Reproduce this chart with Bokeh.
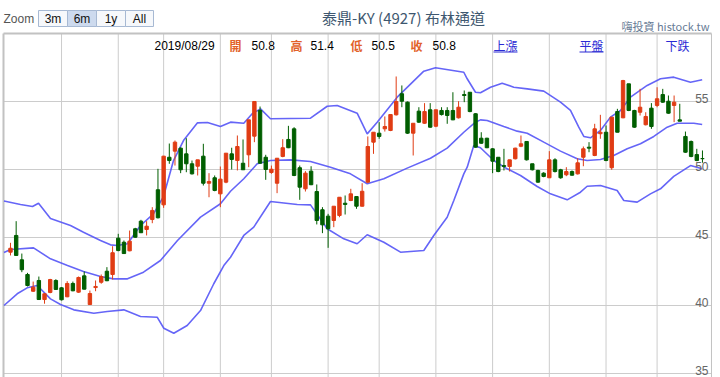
import numpy as np
from bokeh.plotting import figure
from bokeh.models import Range1d, Label, BoxAnnotation, ColumnDataSource
from bokeh.core.properties import value
from bokeh.embed import file_html
from bokeh.resources import INLINE

# ---------------- data ----------------
last_date = "2019/08/29"

opens = [43.92, 45.15, 43.36, 42.28, 41.05, 41.84, 40.44, 40.96, 41.84, 41.30,
         40.64, 41.62, 40.98, 42.18, 40.07, 41.32, 41.71, 42.52, 42.28, 44.95,
         44.65, 44.02, 45.64, 46.20, 45.59, 46.32, 48.51, 47.40, 50.90, 51.35,
         51.57, 51.15, 50.42, 50.24, 50.98, 48.99, 49.39, 48.21, 49.07, 51.15,
         50.66, 50.46, 51.08, 52.45, 54.34, 50.90, 49.78, 48.99, 50.96, 52.21,
         52.99, 50.13, 48.58, 49.88, 48.38, 47.04, 46.57, 46.25, 46.62, 47.52,
         47.72, 48.01, 47.30, 49.07, 52.01, 52.67, 52.99, 52.87, 54.02, 55.57,
         54.95, 52.67, 54.29, 53.40, 54.39, 53.18, 54.34, 54.34, 54.34, 53.80,
         55.51, 55.68, 54.10, 52.30, 52.30, 51.52, 50.90, 50.29, 50.22, 50.79,
         51.71, 52.06, 50.42, 49.93, 49.73, 49.39, 50.71, 49.98, 49.61, 49.85,
         49.68, 50.90, 51.64, 51.03, 52.63, 52.74, 50.13, 54.26, 53.80, 56.30,
         54.34, 54.21, 53.29, 54.51, 54.71, 55.51, 55.02, 54.71, 53.65, 52.43,
         52.06, 51.10, 50.80]
highs = [44.61, 46.20, 43.82, 42.40, 41.76, 42.13, 40.90, 41.96, 41.93, 41.35,
         41.79, 41.76, 42.13, 42.50, 41.10, 41.84, 42.28, 42.82, 44.36, 45.27,
         44.78, 45.51, 45.71, 46.30, 46.20, 47.23, 50.05, 51.00, 51.91, 52.13,
         51.62, 52.30, 50.66, 50.71, 51.89, 49.73, 49.56, 50.22, 51.20, 51.60,
         52.50, 52.21, 53.65, 55.00, 54.63, 51.08, 50.29, 50.83, 52.23, 53.21,
         53.11, 50.29, 49.88, 50.24, 48.90, 47.23, 46.74, 47.30, 47.96, 48.09,
         48.58, 48.01, 48.99, 52.43, 52.74, 53.48, 53.90, 54.04, 56.84, 56.18,
         55.00, 53.40, 54.58, 54.88, 54.88, 54.39, 54.58, 54.58, 55.68, 55.02,
         55.81, 55.68, 54.14, 52.74, 52.33, 51.57, 50.90, 51.52, 50.71, 51.60,
         52.50, 52.06, 50.42, 49.98, 49.80, 51.35, 50.83, 50.05, 50.17, 49.93,
         50.83, 51.69, 52.01, 53.36, 54.02, 53.24, 53.85, 54.46, 56.59, 56.30,
         54.39, 55.93, 54.21, 54.88, 56.05, 55.93, 55.44, 55.44, 54.83, 52.79,
         52.13, 51.52, 51.40]
lows = [43.68, 43.65, 42.45, 41.40, 41.00, 40.42, 40.13, 40.90, 41.15, 40.37,
        40.61, 41.05, 40.93, 41.18, 40.05, 41.05, 41.60, 41.79, 41.91, 43.99,
        43.80, 43.99, 44.98, 45.35, 45.15, 46.05, 46.40, 47.18, 50.42, 50.29,
        49.73, 49.80, 49.63, 49.56, 48.82, 47.96, 48.40, 47.23, 48.99, 50.00,
        49.93, 49.98, 50.17, 52.01, 50.42, 49.24, 49.68, 48.26, 50.90, 51.57,
        49.51, 47.77, 48.38, 48.85, 45.96, 45.32, 44.24, 45.76, 46.49, 46.69,
        47.67, 47.11, 47.28, 48.99, 51.15, 52.26, 52.79, 52.82, 53.97, 54.58,
        52.62, 51.03, 53.43, 53.36, 53.07, 53.11, 53.97, 53.36, 53.63, 53.75,
        54.95, 54.21, 51.60, 51.89, 51.57, 49.73, 49.80, 49.93, 49.85, 50.74,
        51.64, 50.66, 49.93, 49.02, 49.43, 49.39, 49.78, 49.32, 49.51, 49.56,
        49.63, 50.24, 51.27, 50.98, 52.26, 50.61, 49.98, 52.74, 53.77, 54.29,
        53.07, 53.97, 53.24, 52.99, 54.58, 54.90, 54.10, 53.48, 53.55, 51.23,
        50.90, 50.61, 50.50]
closes = [44.21, 43.68, 42.63, 41.47, 41.35, 40.44, 40.86, 41.91, 41.18, 40.42,
          41.62, 41.08, 42.06, 41.20, 40.88, 41.40, 42.13, 41.82, 43.88, 44.04,
          43.82, 44.73, 45.02, 45.35, 45.83, 46.99, 46.45, 50.98, 50.66, 52.01,
          49.98, 50.42, 49.68, 50.71, 48.99, 49.12, 48.46, 49.29, 51.20, 50.74,
          51.69, 49.98, 53.65, 55.00, 50.46, 50.00, 50.02, 50.83, 51.60, 51.60,
          49.56, 48.70, 49.73, 48.88, 46.25, 45.93, 45.64, 47.30, 47.96, 47.43,
          48.21, 47.30, 48.40, 51.69, 52.74, 52.43, 53.16, 54.04, 55.00, 55.02,
          52.67, 53.40, 53.48, 54.26, 53.11, 54.39, 54.04, 53.97, 53.65, 54.58,
          55.44, 54.26, 51.64, 51.93, 51.60, 50.61, 49.85, 50.22, 50.71, 51.57,
          51.89, 50.71, 49.98, 49.07, 49.49, 50.71, 49.85, 49.39, 49.85, 49.58,
          50.49, 51.52, 51.57, 52.99, 52.74, 50.66, 53.85, 52.74, 56.54, 54.34,
          53.11, 54.58, 53.90, 53.16, 55.20, 54.95, 54.14, 54.95, 53.55, 51.27,
          50.96, 50.66, 50.80]

# Bollinger bands (session index, price)
upper_x = [-1.15, 1.76, 3.88, 4.94, 7.05, 10.58, 12.87, 15.87, 17.63, 18.86, 20.63,
           22.92, 25.21, 26.97, 28.74, 30.5, 32.97, 34.73, 37.02, 38.79, 41.13,
           42.61, 44.08, 45.84, 52.89, 55.84, 57.6, 61.12, 62.89, 64.65, 68.18,
           72.87, 74.93, 79.92, 80.52, 81.98, 82.86, 84.63, 86.69, 88.73, 91.1,
           94.02, 96.97, 98.73, 100.19, 101.08, 102.26, 104.02, 105.78, 107.55,
           109.31, 112.25, 114.6, 116.94, 119.89, 121.95]
upper_y = [47.68, 47.43, 47.28, 47.52, 46.40, 45.88, 45.39, 44.78, 44.46, 44.41, 44.54,
           45.88, 46.74, 48.00, 50.66, 52.13, 53.43, 53.46, 53.16, 53.48, 53.40,
           54.10, 54.46, 53.73, 53.77, 54.65, 54.71, 54.14, 52.62, 53.48, 55.32,
           57.23, 57.48, 57.15, 56.67, 55.68, 55.64, 56.05, 56.35, 56.05, 55.93,
           55.76, 54.95, 54.34, 53.11, 52.43, 52.33, 52.87, 53.85, 54.34,
           55.32, 56.18, 56.67, 56.79, 56.42, 56.60]
mid_x = [-1.15, 0.0, 4.06, 7.05, 10.05, 12.87, 15.87, 18.16, 20.63, 23.45, 26.44,
         29.44, 33.5, 37.02, 38.79, 41.13, 43.49, 45.84, 49.37, 52.89, 56.42,
         59.94, 62.89, 65.82, 69.94, 74.05, 76.99, 79.92, 81.98, 82.86, 84.04,
         86.97, 89.33, 91.1, 94.02, 96.97, 99.91, 101.67, 104.02, 106.36, 108.73,
         111.07, 113.42, 115.78, 117.54, 120.47, 121.95]
mid_y = [43.90, 44.12, 44.24, 43.43, 42.94, 42.50, 42.13, 41.96, 41.96, 42.45, 43.31,
         44.78, 46.50, 47.48, 48.40, 49.32, 50.42, 50.66, 50.71, 50.59, 50.17,
         49.68, 48.95, 49.32, 50.10, 50.83, 51.57, 52.74, 53.48, 53.65, 53.60,
         53.16, 52.82, 52.67, 52.01, 51.35, 50.79, 50.66, 50.74, 51.03, 51.52,
         51.89, 52.43, 53.11, 53.40, 53.40, 53.31]
lower_x = [-1.15, 1.18, 2.94, 4.71, 7.05, 8.82, 11.16, 14.69, 17.05, 19.98, 22.92,
           25.86, 27.03, 28.79, 31.15, 33.5, 35.84, 37.61, 38.79, 41.13, 42.89,
           45.84, 50.55, 52.89, 55.84, 58.76, 61.12, 62.89, 65.82, 68.76, 72.87,
           74.63, 76.99, 78.16, 79.92, 80.52, 81.68, 82.86, 85.21, 87.57, 89.92,
           92.86, 95.2, 98.15, 100.49, 101.67, 104.02, 106.96, 108.13, 110.49,
           112.83, 114.6, 116.94, 119.89, 121.95]
lower_y = [40.00, 40.86, 41.30, 41.47, 40.49, 40.07, 39.68, 39.43, 39.56, 39.68, 39.19,
           39.14, 38.33, 37.96, 38.53, 39.63, 41.60, 42.94, 43.55, 45.15, 45.76,
           47.65, 47.43, 47.40, 45.64, 44.90, 44.54, 45.20, 44.65, 43.92, 44.04,
           45.15, 46.49, 47.72, 49.68, 50.17, 51.76, 51.60, 50.66, 50.05, 49.56,
           48.75, 48.21, 47.77, 48.33, 48.77, 48.82, 48.46, 47.72, 47.60,
           48.21, 48.58, 49.49, 50.29, 50.05]

grid_sessions = [9, 19, 27, 37, 46, 56, 65, 75, 85, 95, 105, 114]
ytick_vals = [35, 40, 45, 50, 55]
ytick_labels = ["35", "40", "45", "50", "55"]

title_text = "泰鼎-KY (4927) 布林通道"
credit_text = "嗨投資 histock.tw"
zoom_label = "Zoom"
zoom_buttons = ["3m", "6m", "1y", "All"]
selected_button = "6m"
ohlc_names = ["開", "高", "低", "收"]
legend_items = ["上漲", "平盤", "下跌"]

# ---------------- layout / styling ----------------
RED = "#E03C14"
GREEN = "#005E00"
BAND = "#5454F6"
GRID = "#cccccc"
BORDER = "#c2c2c2"
LATIN = "Liberation Sans"
CJK = "Noto Sans CJK TC"

W, H = 720, 377
# whole-canvas data window (header lives above the plot area)
VX0, VX1 = -1.763, 125.18
VY0, VY1 = 34.706, 62.426
# plot-area extent (in session / price units)
PX0, PX1 = -1.234, 123.59
PY_TOP = 60

p = figure(width=W, height=H, output_backend="svg", toolbar_location=None, title=None,
           x_range=Range1d(VX0, VX1), y_range=Range1d(VY0, VY1),
           x_axis_type=None, y_axis_type=None,
           min_border_left=0, min_border_right=0, min_border_top=0, min_border_bottom=0)
p.outline_line_color = None
p.background_fill_color = "white"
p.border_fill_color = "white"

# grid lines limited to the plot area
p.segment(x0=grid_sessions, y0=[VY0] * len(grid_sessions), x1=grid_sessions,
          y1=[PY_TOP] * len(grid_sessions), line_color=GRID, line_width=1)
p.segment(x0=[PX0] * len(ytick_vals), y0=ytick_vals, x1=[PX1] * len(ytick_vals),
          y1=ytick_vals, line_color=GRID, line_width=1)

# plot-area border (left, top, right)
p.line([PX0, PX0], [VY0, PY_TOP], line_color=BORDER, line_width=2)
p.line([PX0, PX1], [PY_TOP, PY_TOP], line_color=BORDER, line_width=2)
p.line([PX1, PX1], [PY_TOP, VY0], line_color=BORDER, line_width=1)

# bands
for bx, by in ((upper_x, upper_y), (mid_x, mid_y), (lower_x, lower_y)):
    p.line(bx, by, line_color=BAND, line_width=1.6, line_alpha=0.9)

# candles
o = np.array(opens)
c = np.array(closes)
src = ColumnDataSource(dict(
    x=np.arange(len(opens)),
    top=np.maximum(o, c), bottom=np.minimum(o, c),
    high=highs, low=lows,
    color=np.where(c > o, RED, GREEN),
))
p.segment(x0="x", y0="low", x1="x", y1="high", line_color="color", line_width=1, source=src)
p.vbar(x="x", width=0.6, top="top", bottom="bottom", fill_color="color",
       line_color="color", line_width=1, source=src)

# y tick labels inside the plot, right side, above grid lines
p.text(x=[PX1] * len(ytick_vals), y=ytick_vals, text=ytick_labels,
       text_align="right", text_baseline="alphabetic", x_offset=-3, y_offset=-3,
       text_color="#666666", text_font=value(LATIN), text_font_size="12px")


# ---------------- header texts (screen units, from the canvas bottom-left) ----------------
def lab(text, px, py, color="#000000", font=LATIN, size="12px", align="left", style="normal"):
    p.add_layout(Label(x=px, y=H - py, x_units="screen", y_units="screen", text=text,
                       text_align=align, text_baseline="middle", text_color=color,
                       text_font=font, text_font_size=size, text_font_style=style,
                       level="overlay"))


def box(px0, px1, py0, py1, fill, line=None):
    p.add_layout(BoxAnnotation(left=px0, right=px1, top=H - py0, bottom=H - py1,
                               left_units="screen", right_units="screen",
                               top_units="screen", bottom_units="screen",
                               fill_color=fill, fill_alpha=1.0,
                               line_color=line, line_alpha=1.0 if line else 0.0, line_width=1,
                               level="annotation"))


lab(zoom_label, 3, 18, color="#555555", size="12px")
btn_x = [38, 67, 96, 125, 153]
for i, t in enumerate(zoom_buttons):
    sel = (t == selected_button)
    box(btn_x[i], btn_x[i + 1], 10, 26, "#cddaee" if sel else "#f6f8fb", "#a7b9d3")
    lab(t, (btn_x[i] + btn_x[i + 1]) / 2, 18, color="#111111", size="12px", align="center")

lab(title_text, 403, 17, color="#3E576F", font=CJK, size="15px", align="center")
lab(credit_text, 709, 25, color="#687c96", font=CJK, size="11px", align="right")

# last-session OHLC line
vals = [opens[-1], highs[-1], lows[-1], closes[-1]]
lab(last_date, 154, 45, color="#000000", size="12px")
name_x = [229, 290, 350, 410]
num_x = [251, 310, 371, 432]
for nm, nx, vx, v in zip(ohlc_names, name_x, num_x, vals):
    lab(nm, nx, 45, color="#E2622A", font=CJK, size="12px", style="bold")
    lab(f"{v:.1f}", vx, 45, color="#000000", size="12px")

leg_x = [493, 579, 665]
for i, (t, lx) in enumerate(zip(legend_items, leg_x)):
    lab(t, lx, 45, color="#2a2ad4", font=CJK, size="12px")
    if i < 2:
        box(lx, lx + 24, 51, 52, "#2a2ad4")

open("out.html", "w").write(file_html(p, INLINE))
